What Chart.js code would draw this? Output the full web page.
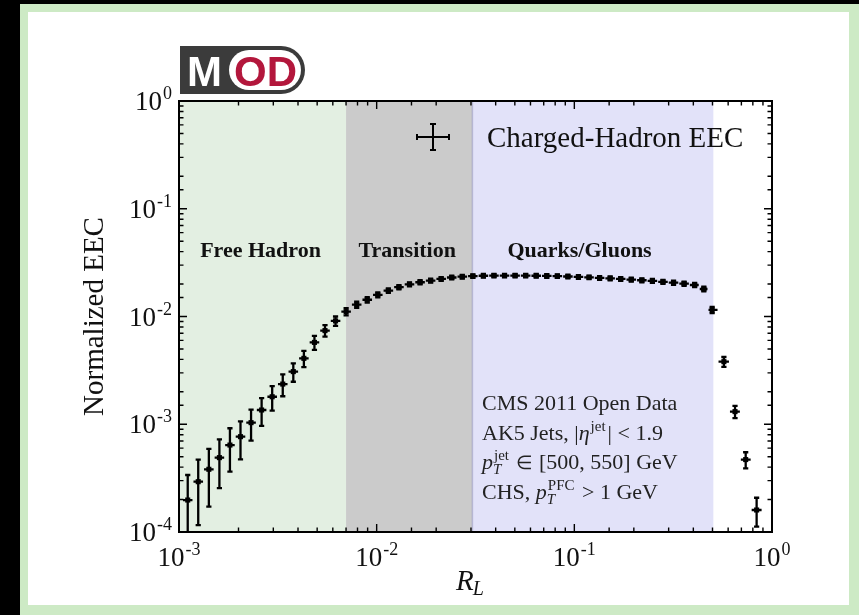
<!DOCTYPE html>
<html><head><meta charset="utf-8">
<script src="https://cdn.jsdelivr.net/npm/chart.js@4/dist/chart.umd.min.js"></script>
<style>html,body{margin:0;padding:0;background:#000;overflow:hidden}#wrap{width:859px;height:615px;position:relative}canvas{display:block}</style>
</head><body><div id="wrap"><canvas id="c" width="859" height="615"></canvas></div>
<script>
const seriesLabel = 'Charged-Hadron EEC';
const rL = [1.107e-3,1.251e-3,1.416e-3,1.601e-3,1.810e-3,2.047e-3,2.315e-3,2.618e-3,2.961e-3,3.349e-3,
  3.787e-3,4.283e-3,4.844e-3,5.478e-3,6.194e-3,7.007e-3,7.924e-3,8.960e-3,1.0132e-2,1.146e-2,
  1.296e-2,1.466e-2,1.658e-2,1.875e-2,2.120e-2,2.398e-2,2.711e-2,3.066e-2,3.467e-2,3.921e-2,
  4.434e-2,5.015e-2,5.673e-2,6.414e-2,7.254e-2,8.205e-2,9.279e-2,0.1049,0.1187,0.1342,
  0.1518,0.1716,0.1941,0.2196,0.2483,0.2808,0.3176,0.3591,0.4061,0.4520,
  0.4980,0.5710,0.6500,0.7360,0.8360];
const eec = [1.98e-4,2.93e-4,3.82e-4,4.90e-4,6.41e-4,7.67e-4,1.035e-3,1.356e-3,1.80e-3,2.36e-3,
  3.08e-3,4.09e-3,5.75e-3,7.4e-3,9.1e-3,1.11e-2,1.29e-2,1.43e-2,1.59e-2,1.74e-2,
  1.87e-2,1.99e-2,2.08e-2,2.15e-2,2.23e-2,2.30e-2,2.34e-2,2.37e-2,2.39e-2,2.40e-2,
  2.40e-2,2.40e-2,2.40e-2,2.39e-2,2.38e-2,2.37e-2,2.35e-2,2.33e-2,2.31e-2,2.28e-2,
  2.26e-2,2.23e-2,2.20e-2,2.17e-2,2.14e-2,2.10e-2,2.06e-2,2.02e-2,1.96e-2,1.80e-2,
  1.15e-2,3.81e-3,1.31e-3,4.70e-4,1.60e-4];
const eecErr = [1.4e-4,1.77e-4,2.1e-4,2.35e-4,2.77e-4,2.95e-4,3.3e-4,3.9e-4,4.6e-4,5.4e-4,
  6.0e-4,7.0e-4,8.5e-4,9.0e-4,9.0e-4,8.5e-4,8.5e-4,8.5e-4,8.5e-4,8.5e-4,
  8.5e-4,8.5e-4,9.0e-4,9.0e-4,9.0e-4,9.0e-4,9.0e-4,9.0e-4,9.0e-4,9.0e-4,
  9.0e-4,9.0e-4,9.0e-4,9.0e-4,9.0e-4,9.0e-4,9.0e-4,9.0e-4,9.0e-4,9.0e-4,
  9.0e-4,9.0e-4,9.0e-4,9.0e-4,9.0e-4,9.0e-4,9.0e-4,9.0e-4,9.0e-4,9.0e-4,
  7.5e-4,4.0e-4,1.7e-4,8.0e-5,4.8e-5];
const regionEdges = [0.001, 0.007, 0.0305, 0.505];
const regionNames = ['Free Hadron', 'Transition', 'Quarks/Gluons'];
const regionColors = ['#e3efe2', '#cbcbcb', '#e2e2f9'];
const xTickExps = [-3, -2, -1, 0];
const yTickExps = [-4, -3, -2, -1, 0];
const xTitle = ['R', 'L'];
const yTitle = 'Normalized EEC';
const infoLines = [
  [{t:'CMS 2011 Open Data'}],
  [{t:'AK5 Jets, |'}, {t:'\u03B7', i:1}, {sup:'jet'}, {t:'| < 1.9'}],
  [{t:'p', i:1}, {sup:'jet', sub:'T'}, {t:' '}, {t:'\u2208', s:19}, {t:' [500, 550] GeV'}],
  [{t:'CHS, '}, {t:'p', i:1}, {sup:'PFC', sub:'T'}, {t:' > 1 GeV'}]
];
const logoText = ['M', 'OD'];

const SERIF = '"Liberation Serif", "Times New Roman", serif';

function drawPow(ctx, exp, x, y, align) {
  const base = '10', sup = String(exp);
  ctx.font = '27px ' + SERIF;
  const wb = ctx.measureText(base).width;
  ctx.font = '18px ' + SERIF;
  const ws = ctx.measureText(sup).width;
  const w = wb + 1 + ws;
  let x0 = align === 'right' ? x - w : x - w / 2;
  ctx.textAlign = 'left';
  ctx.textBaseline = 'alphabetic';
  ctx.font = '27px ' + SERIF;
  ctx.fillText(base, x0, y);
  ctx.font = '18px ' + SERIF;
  ctx.fillText(sup, x0 + wb + 1, y - 11);
}

function drawRich(ctx, segs, x, y) {
  ctx.textAlign = 'left';
  ctx.textBaseline = 'alphabetic';
  for (const s of segs) {
    if (s.t !== undefined) {
      ctx.font = (s.i ? 'italic ' : '') + (s.s || 22) + 'px ' + SERIF;
      ctx.fillText(s.t, x, y);
      x += ctx.measureText(s.t).width;
    } else {
      let w = 0;
      if (s.sup) {
        ctx.font = '15px ' + SERIF;
        ctx.fillText(s.sup, x + 1, y - 9);
        w = Math.max(w, ctx.measureText(s.sup).width + 1);
      }
      if (s.sub) {
        ctx.font = 'italic 15px ' + SERIF;
        ctx.fillText(s.sub, x, y + 5);
        w = Math.max(w, ctx.measureText(s.sub).width);
      }
      x += w + 2;
    }
  }
}

const framePlugin = {
  id: 'frame',
  beforeDraw(chart) {
    const ctx = chart.ctx;
    ctx.save();
    ctx.fillStyle = '#000';
    ctx.fillRect(0, 0, 859, 615);
    ctx.fillStyle = '#cdeac5';
    ctx.fillRect(20, 4, 839, 611);
    ctx.fillStyle = '#fff';
    ctx.fillRect(28, 12, 821, 593);
    ctx.restore();
  },
  beforeDatasetsDraw(chart) {
    const ctx = chart.ctx, a = chart.chartArea, xs = chart.scales.x;
    ctx.save();
    for (let i = 0; i < regionNames.length; i++) {
      const x0 = xs.getPixelForValue(regionEdges[i]);
      const x1 = xs.getPixelForValue(regionEdges[i + 1]);
      ctx.fillStyle = regionColors[i];
      ctx.fillRect(x0, a.top, x1 - x0, a.bottom - a.top);
    }
    ctx.strokeStyle = 'rgba(150,150,190,0.6)';
    ctx.lineWidth = 1.5;
    const xb = xs.getPixelForValue(regionEdges[2]);
    ctx.beginPath(); ctx.moveTo(xb, a.top); ctx.lineTo(xb, a.bottom); ctx.stroke();
    ctx.fillStyle = '#111';
    ctx.font = 'bold 22px ' + SERIF;
    ctx.textBaseline = 'alphabetic';
    for (let i = 0; i < regionNames.length; i++) {
      const x0 = xs.getPixelForValue(regionEdges[i]);
      const x1 = xs.getPixelForValue(regionEdges[i + 1]);
      if (i < 2) {
        ctx.textAlign = 'center';
        ctx.fillText(regionNames[i], (x0 + x1) / 2 - 2, a.top + 156);
      } else {
        ctx.textAlign = 'left';
        ctx.fillText(regionNames[i], x0 + 35, a.top + 156);
      }
    }
    const ys = chart.scales.y;
    ctx.save();
    ctx.beginPath();
    ctx.rect(a.left, a.top, a.right - a.left, a.bottom - a.top);
    ctx.clip();
    ctx.strokeStyle = '#000';
    ctx.lineWidth = 2.3;
    const cap = 2.6;
    for (let i = 0; i < rL.length; i++) {
      const lo = i > 0 ? Math.sqrt(rL[i] * rL[i - 1]) : rL[i] * rL[i] / Math.sqrt(rL[i] * rL[i + 1]);
      const hi = i < rL.length - 1 ? Math.sqrt(rL[i] * rL[i + 1]) : rL[i] * rL[i] / Math.sqrt(rL[i] * rL[i - 1]);
      const px = xs.getPixelForValue(rL[i]);
      const py = ys.getPixelForValue(eec[i]);
      const pxl = xs.getPixelForValue(lo) + 0.5, pxh = xs.getPixelForValue(hi) - 0.5;
      const yl = eec[i] - eecErr[i];
      const pyl = yl > 0 ? ys.getPixelForValue(yl) : a.bottom + 20;
      const pyh = ys.getPixelForValue(eec[i] + eecErr[i]);
      ctx.beginPath();
      ctx.moveTo(pxl, py); ctx.lineTo(pxh, py);
      ctx.moveTo(px, pyl); ctx.lineTo(px, pyh);
      ctx.moveTo(px - cap, pyl); ctx.lineTo(px + cap, pyl);
      ctx.moveTo(px - cap, pyh); ctx.lineTo(px + cap, pyh);
      ctx.stroke();
    }
    ctx.restore();
    ctx.restore();
  },
  afterDraw(chart) {
    const ctx = chart.ctx, a = chart.chartArea, xs = chart.scales.x, ys = chart.scales.y;
    ctx.save();
    ctx.strokeStyle = '#000';
    ctx.lineWidth = 2;
    ctx.strokeRect(a.left, a.top, a.right - a.left, a.bottom - a.top);
    ctx.lineWidth = 1.4;
    const isMajor = v => Math.abs(Math.log10(v) - Math.round(Math.log10(v))) < 1e-6;
    ctx.beginPath();
    for (const t of xs.ticks) {
      if (t.value < xs.min || t.value > xs.max) continue;
      const px = xs.getPixelForValue(t.value);
      const len = isMajor(t.value) ? 8 : 4.5;
      ctx.moveTo(px, a.bottom); ctx.lineTo(px, a.bottom - len);
      ctx.moveTo(px, a.top); ctx.lineTo(px, a.top + len);
    }
    for (const t of ys.ticks) {
      if (t.value < ys.min || t.value > ys.max) continue;
      const py = ys.getPixelForValue(t.value);
      const len = isMajor(t.value) ? 8 : 4.5;
      ctx.moveTo(a.left, py); ctx.lineTo(a.left + len, py);
      ctx.moveTo(a.right, py); ctx.lineTo(a.right - len, py);
    }
    ctx.stroke();
    ctx.fillStyle = '#111';
    for (const e of xTickExps) {
      drawPow(ctx, e, xs.getPixelForValue(Math.pow(10, e)), a.bottom + 34, 'center');
    }
    for (const e of yTickExps) {
      drawPow(ctx, e, a.left - 7, ys.getPixelForValue(Math.pow(10, e)) + 9, 'right');
    }
    ctx.textAlign = 'left';
    ctx.textBaseline = 'alphabetic';
    ctx.font = 'italic 29px ' + SERIF;
    const rx = 456;
    ctx.fillText(xTitle[0], rx, 590);
    const rw = ctx.measureText(xTitle[0]).width;
    ctx.font = 'italic 20px ' + SERIF;
    ctx.fillText(xTitle[1], rx + rw - 1, 595);
    ctx.save();
    ctx.translate(103, (a.top + a.bottom) / 2);
    ctx.rotate(-Math.PI / 2);
    ctx.textAlign = 'center';
    ctx.font = '29px ' + SERIF;
    ctx.fillText(yTitle, 0, 0);
    ctx.restore();
    const lx = a.left + 254, ly = a.top + 36;
    ctx.strokeStyle = '#000';
    ctx.lineWidth = 2;
    ctx.beginPath();
    ctx.moveTo(lx - 16, ly); ctx.lineTo(lx + 16, ly);
    ctx.moveTo(lx, ly - 13); ctx.lineTo(lx, ly + 13);
    ctx.moveTo(lx - 16, ly - 3); ctx.lineTo(lx - 16, ly + 3);
    ctx.moveTo(lx + 16, ly - 3); ctx.lineTo(lx + 16, ly + 3);
    ctx.moveTo(lx - 3, ly - 13); ctx.lineTo(lx + 3, ly - 13);
    ctx.moveTo(lx - 3, ly + 13); ctx.lineTo(lx + 3, ly + 13);
    ctx.stroke();
    ctx.font = '29px ' + SERIF;
    ctx.textAlign = 'left';
    ctx.fillText(chart.data.datasets[0].label, a.left + 308, a.top + 46);
    ctx.fillStyle = '#222';
    for (let k = 0; k < infoLines.length; k++) {
      drawRich(ctx, infoLines[k], a.left + 303, a.top + 309 + k * 29.5);
    }
    ctx.fillStyle = '#3b3b3b';
    ctx.beginPath();
    ctx.roundRect(a.left + 1, 46, 125, 48, [0, 24, 24, 0]);
    ctx.fill();
    ctx.fillStyle = '#fff';
    ctx.beginPath();
    ctx.roundRect(a.left + 50, 50, 72, 40, 20);
    ctx.fill();
    ctx.font = 'bold 42px "Liberation Sans", Arial, sans-serif';
    ctx.textAlign = 'left';
    ctx.fillStyle = '#fff';
    ctx.fillText(logoText[0], a.left + 8, 86);
    ctx.fillStyle = '#b3173c';
    ctx.fillText(logoText[1], a.left + 55, 86);
    ctx.restore();
  }
};

const ctx = document.getElementById('c').getContext('2d');
new Chart(ctx, {
  type: 'scatter',
  data: {
    datasets: [{
      label: seriesLabel,
      data: rL.map((x, i) => ({x: x, y: eec[i]})),
      pointStyle: 'rect',
      pointRadius: 3.6,
      pointHoverRadius: 3.6,
      backgroundColor: '#000',
      borderColor: '#000',
      borderWidth: 0,
      showLine: false,
      clip: false
    }]
  },
  options: {
    responsive: false,
    animation: false,
    devicePixelRatio: 1,
    layout: {padding: {left: 179, right: 87, top: 101, bottom: 83}},
    plugins: {legend: {display: false}, tooltip: {enabled: false}},
    scales: {
      x: {type: 'logarithmic', min: 1e-3, max: 1,
          ticks: {display: false, autoSkip: false}, grid: {display: false}, border: {display: false},
          afterFit(s) { s.height = 0; }},
      y: {type: 'logarithmic', min: 1e-4, max: 1,
          ticks: {display: false, autoSkip: false}, grid: {display: false}, border: {display: false},
          afterFit(s) { s.width = 0; }}
    }
  },
  plugins: [framePlugin]
});
</script>
</body></html>
